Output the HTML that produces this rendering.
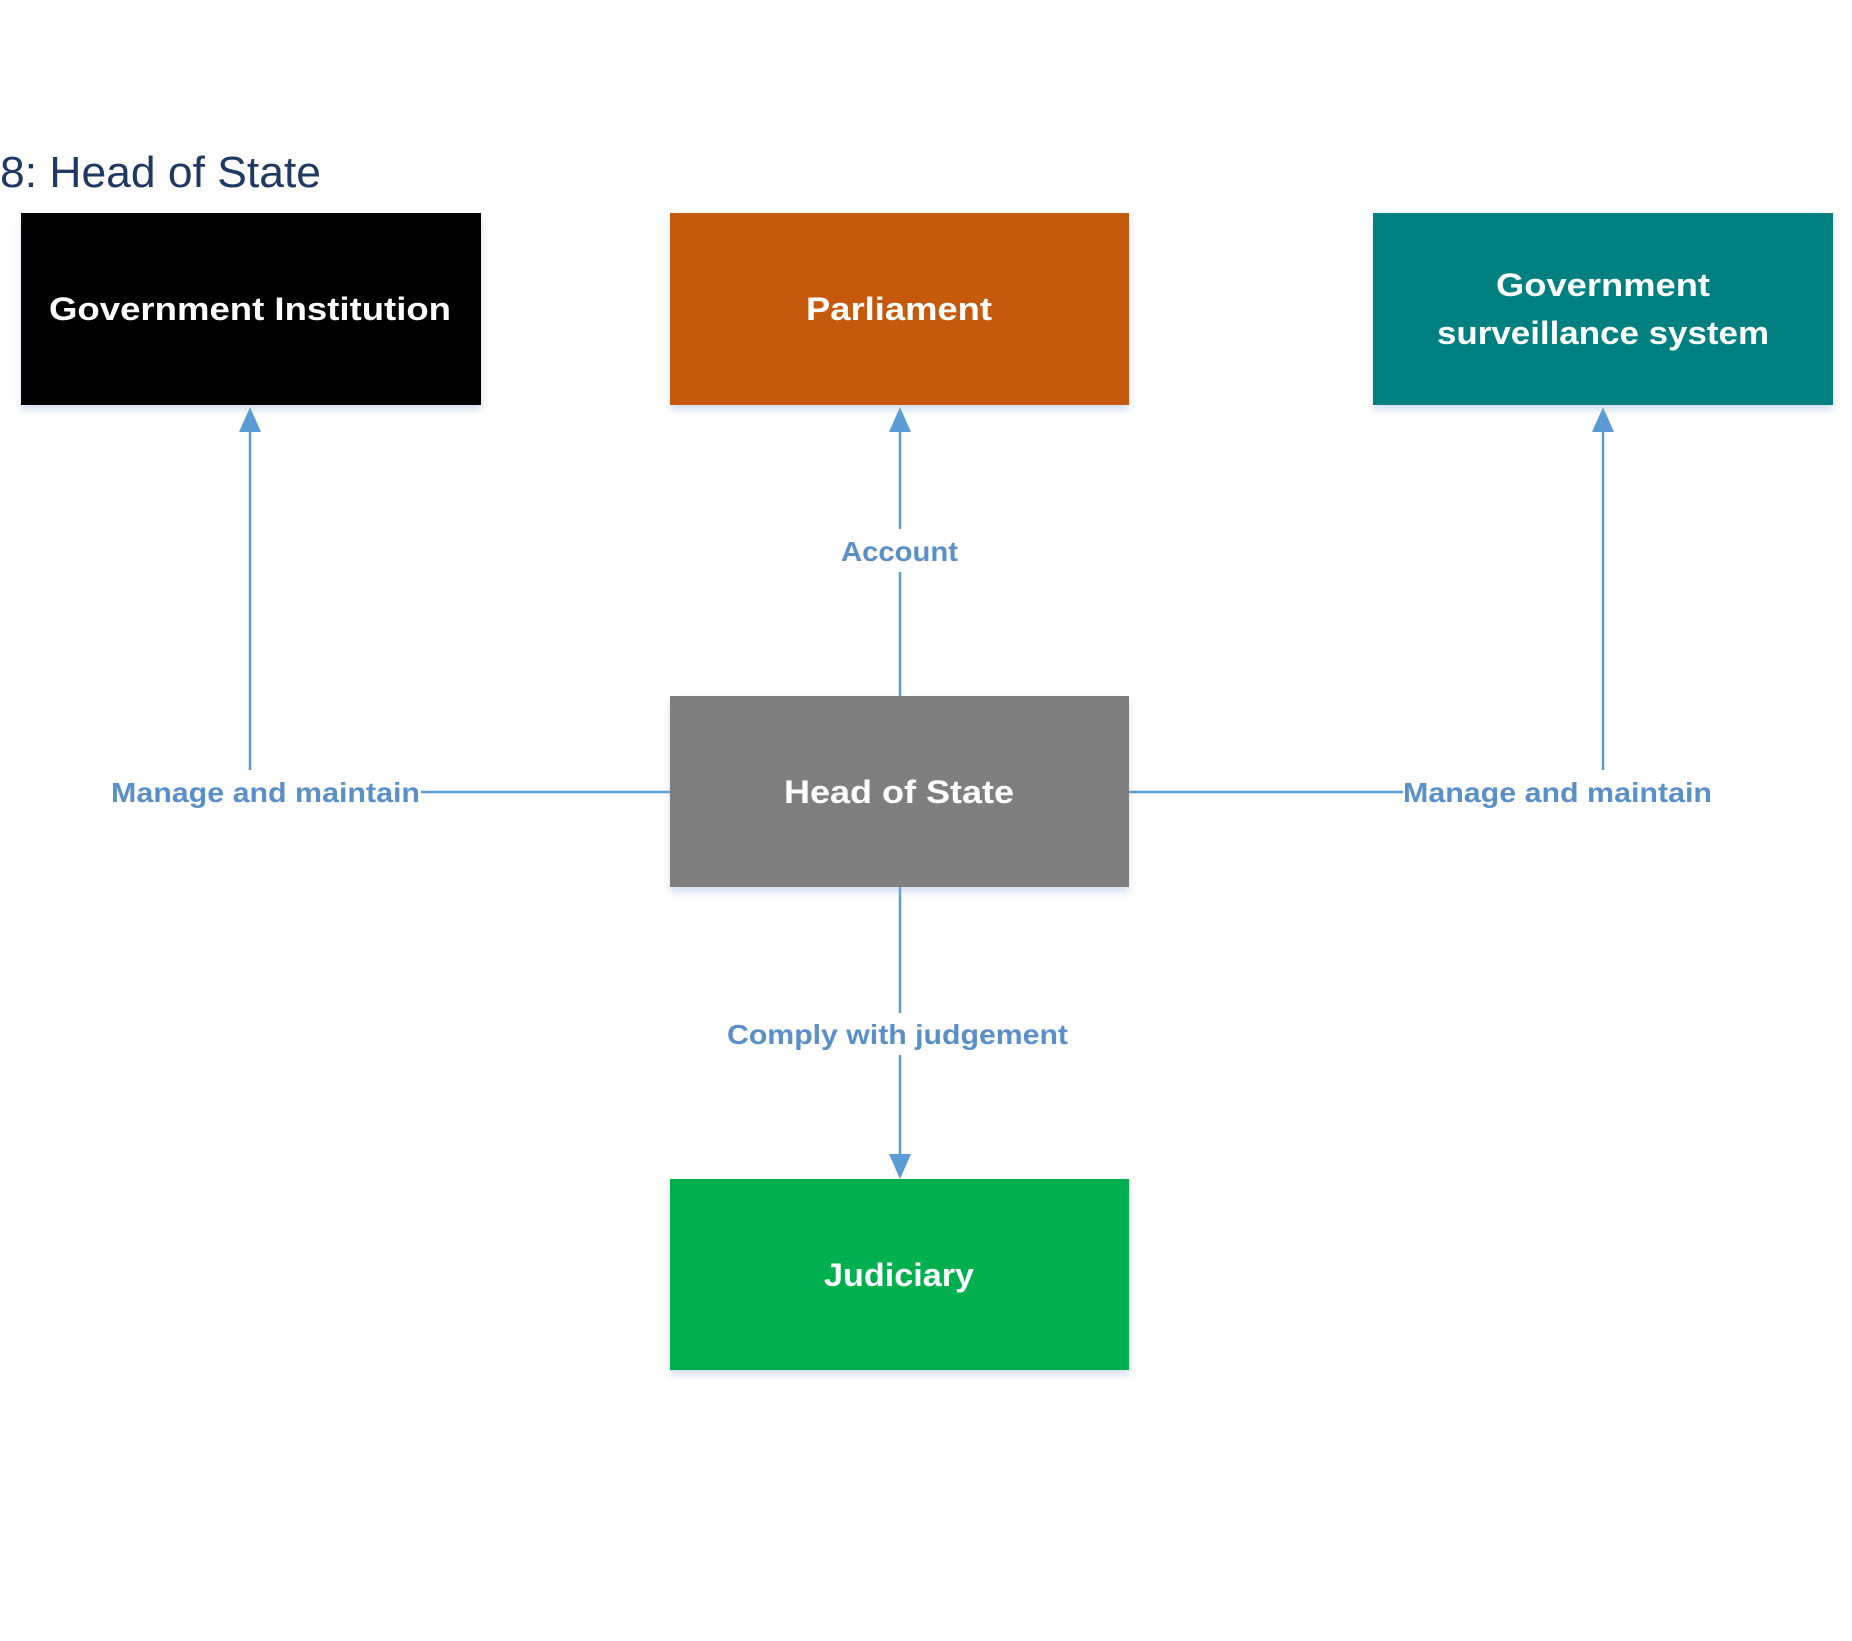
<!DOCTYPE html>
<html><head><meta charset="utf-8"><style>
html,body{margin:0;padding:0;background:#fff;}
svg{display:block;}
</style></head><body>
<svg width="1852" height="1641" viewBox="0 0 1852 1641" xmlns="http://www.w3.org/2000/svg">
<defs>
<filter id="sh" x="-5%" y="-5%" width="110%" height="125%">
<feDropShadow dx="0" dy="5" stdDeviation="4" flood-color="#9bb8dd" flood-opacity="0.45"/>
</filter>
</defs>
<text x="0" y="187" font-family="Liberation Sans, sans-serif" font-size="44" fill="#1f3864" textLength="321" lengthAdjust="spacingAndGlyphs">8: Head of State</text>

<g stroke="#5b9bd5" stroke-width="2.5" fill="none">
<line x1="250" y1="770" x2="250" y2="428"/>
<line x1="1603" y1="770" x2="1603" y2="428"/>
<line x1="900" y1="696" x2="900" y2="572"/>
<line x1="900" y1="529" x2="900" y2="428"/>
<line x1="900" y1="887" x2="900" y2="1013"/>
<line x1="900" y1="1055" x2="900" y2="1156"/>
<line x1="421" y1="792" x2="670" y2="792"/>
<line x1="1129" y1="792" x2="1403" y2="792"/>
</g>
<g fill="#5b9bd5">
<polygon points="250,407 239,432 261,432"/>
<polygon points="1603,407 1592,432 1614,432"/>
<polygon points="900,407 889,432 911,432"/>
<polygon points="900,1179 889,1154 911,1154"/>
</g>

<g filter="url(#sh)">
<rect x="21" y="213" width="460" height="192" fill="#000"/>
<rect x="670" y="213" width="459" height="192" fill="#c55a11"/>
<rect x="1373" y="213" width="460" height="192" fill="#008080"/>
<rect x="670" y="696" width="459" height="191" fill="#7f7f7f"/>
<rect x="670" y="1179" width="459" height="191" fill="#00b050"/>
</g>
<g font-family="Liberation Sans, sans-serif" font-weight="bold" font-size="32" fill="#fff" text-anchor="middle">
<text x="250" y="320" textLength="402" lengthAdjust="spacingAndGlyphs">Government Institution</text>
<text x="899" y="320" textLength="186" lengthAdjust="spacingAndGlyphs">Parliament</text>
<text x="1603" y="296" textLength="214" lengthAdjust="spacingAndGlyphs">Government</text>
<text x="1603" y="344" textLength="332" lengthAdjust="spacingAndGlyphs">surveillance system</text>
<text x="899" y="803" textLength="230" lengthAdjust="spacingAndGlyphs">Head of State</text>
<text x="899" y="1286" textLength="150" lengthAdjust="spacingAndGlyphs">Judiciary</text>
</g>
<g font-family="Liberation Sans, sans-serif" font-weight="bold" font-size="28" fill="#5b8fc9">
<text x="111" y="802" textLength="309" lengthAdjust="spacingAndGlyphs">Manage and maintain</text>
<text x="1403" y="802" textLength="309" lengthAdjust="spacingAndGlyphs">Manage and maintain</text>
<text x="841" y="561" textLength="117" lengthAdjust="spacingAndGlyphs">Account</text>
<text x="727" y="1044" textLength="341" lengthAdjust="spacingAndGlyphs">Comply with judgement</text>
</g>
</svg>
</body></html>
